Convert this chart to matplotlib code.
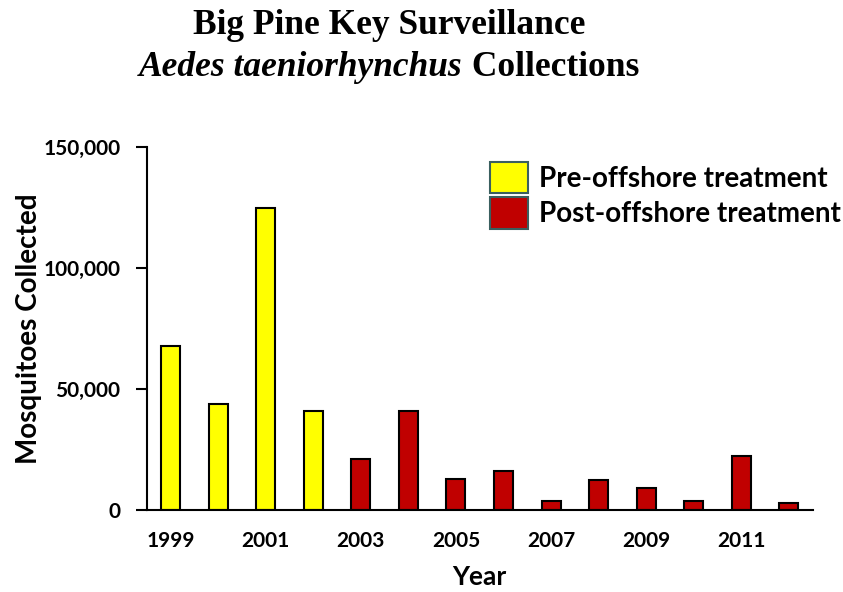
import numpy as np
import matplotlib
matplotlib.use("Agg")
import matplotlib.pyplot as plt
from matplotlib.patches import Patch
from matplotlib.ticker import FuncFormatter

years = [1999, 2000, 2001, 2002, 2003, 2004, 2005, 2006, 2007, 2008, 2009, 2010, 2011, 2012]
collected = [68000, 44000, 125000, 41000, 21000, 41000, 13000, 16000, 3600, 12400, 9200, 3700, 22200, 2800]
pre_treatment = [True, True, True, True, False, False, False, False, False, False, False, False, False, False]
legend_labels = ["Pre-offshore treatment", "Post-offshore treatment"]

PRE_COLOR = "#FFFF00"
POST_COLOR = "#C00000"
SANS = ["Lato", "DejaVu Sans"]
SERIF = ["Liberation Serif", "DejaVu Serif"]
W, H = 843, 592

fig = plt.figure(figsize=(W / 100, H / 100), dpi=100)
ax = fig.add_axes([0.174, 0.1385, 0.79, 0.6125])

x = np.arange(len(years))
colors = [PRE_COLOR if p else POST_COLOR for p in pre_treatment]
ax.bar(x, collected, width=0.4, color=colors, edgecolor="black", linewidth=1.5, zorder=2)

ax.set_xlim(-0.5, len(years) - 0.5)
ax.set_ylim(0, 150000)
ax.set_yticks([0, 50000, 100000, 150000])
ax.yaxis.set_major_formatter(FuncFormatter(lambda v, _: f"{int(v):,}"))
ax.set_xticks(x[::2])
ax.set_xticklabels([str(y) for y in years[::2]])

for side in ("top", "right"):
    ax.spines[side].set_visible(False)
ax.spines["left"].set_linewidth(1.5)
ax.spines["bottom"].set_linewidth(1.5)
ax.tick_params(axis="y", direction="out", length=8, width=1.5, pad=11)
ax.tick_params(axis="x", length=0, pad=15)
for lab in ax.get_xticklabels() + ax.get_yticklabels():
    lab.set_family(SANS)
    lab.set_fontweight("bold")
    lab.set_fontsize(15)

ax.set_xlabel("Year", family=SANS, fontweight="bold", fontsize=19, labelpad=10)
ax.set_ylabel("Mosquitoes Collected", family=SANS, fontweight="bold", fontsize=20, labelpad=1)

handles = [Patch(facecolor=PRE_COLOR, edgecolor="#3A5F5F", linewidth=1.5),
           Patch(facecolor=POST_COLOR, edgecolor="#3A5F5F", linewidth=1.5)]
ax.legend(handles, legend_labels, loc="upper left", bbox_to_anchor=(490 / W, 1 - 162 / H),
          bbox_transform=fig.transFigure, borderaxespad=0, borderpad=0,
          frameon=False, prop={"family": SANS, "weight": "bold", "size": 20},
          handlelength=1.35, handleheight=1.35, handletextpad=0.4, labelspacing=0.15)

# title: first line plain bold, second line partly italic
fig.text(389 / W, 1 - 26 / H, "Big Pine Key Surveillance", ha="center", va="center",
         family=SERIF, fontweight="bold", fontsize=25.5)
fig.canvas.draw()
renderer = fig.canvas.get_renderer()
y2 = 1 - 68 / H
t_it = fig.text(0, y2, "Aedes taeniorhynchus", ha="left", va="center",
                family=SERIF, fontweight="bold", fontstyle="italic", fontsize=25.5)
t_rest = fig.text(0, y2, " Collections", ha="left", va="center",
                  family=SERIF, fontweight="bold", fontsize=25.5)
w_it = t_it.get_window_extent(renderer).width
w_rest = t_rest.get_window_extent(renderer).width
x0 = 389 - (w_it + w_rest) / 2
t_it.set_x(x0 / W)
t_rest.set_x((x0 + w_it) / W)

fig.savefig("out.png", dpi=100)
